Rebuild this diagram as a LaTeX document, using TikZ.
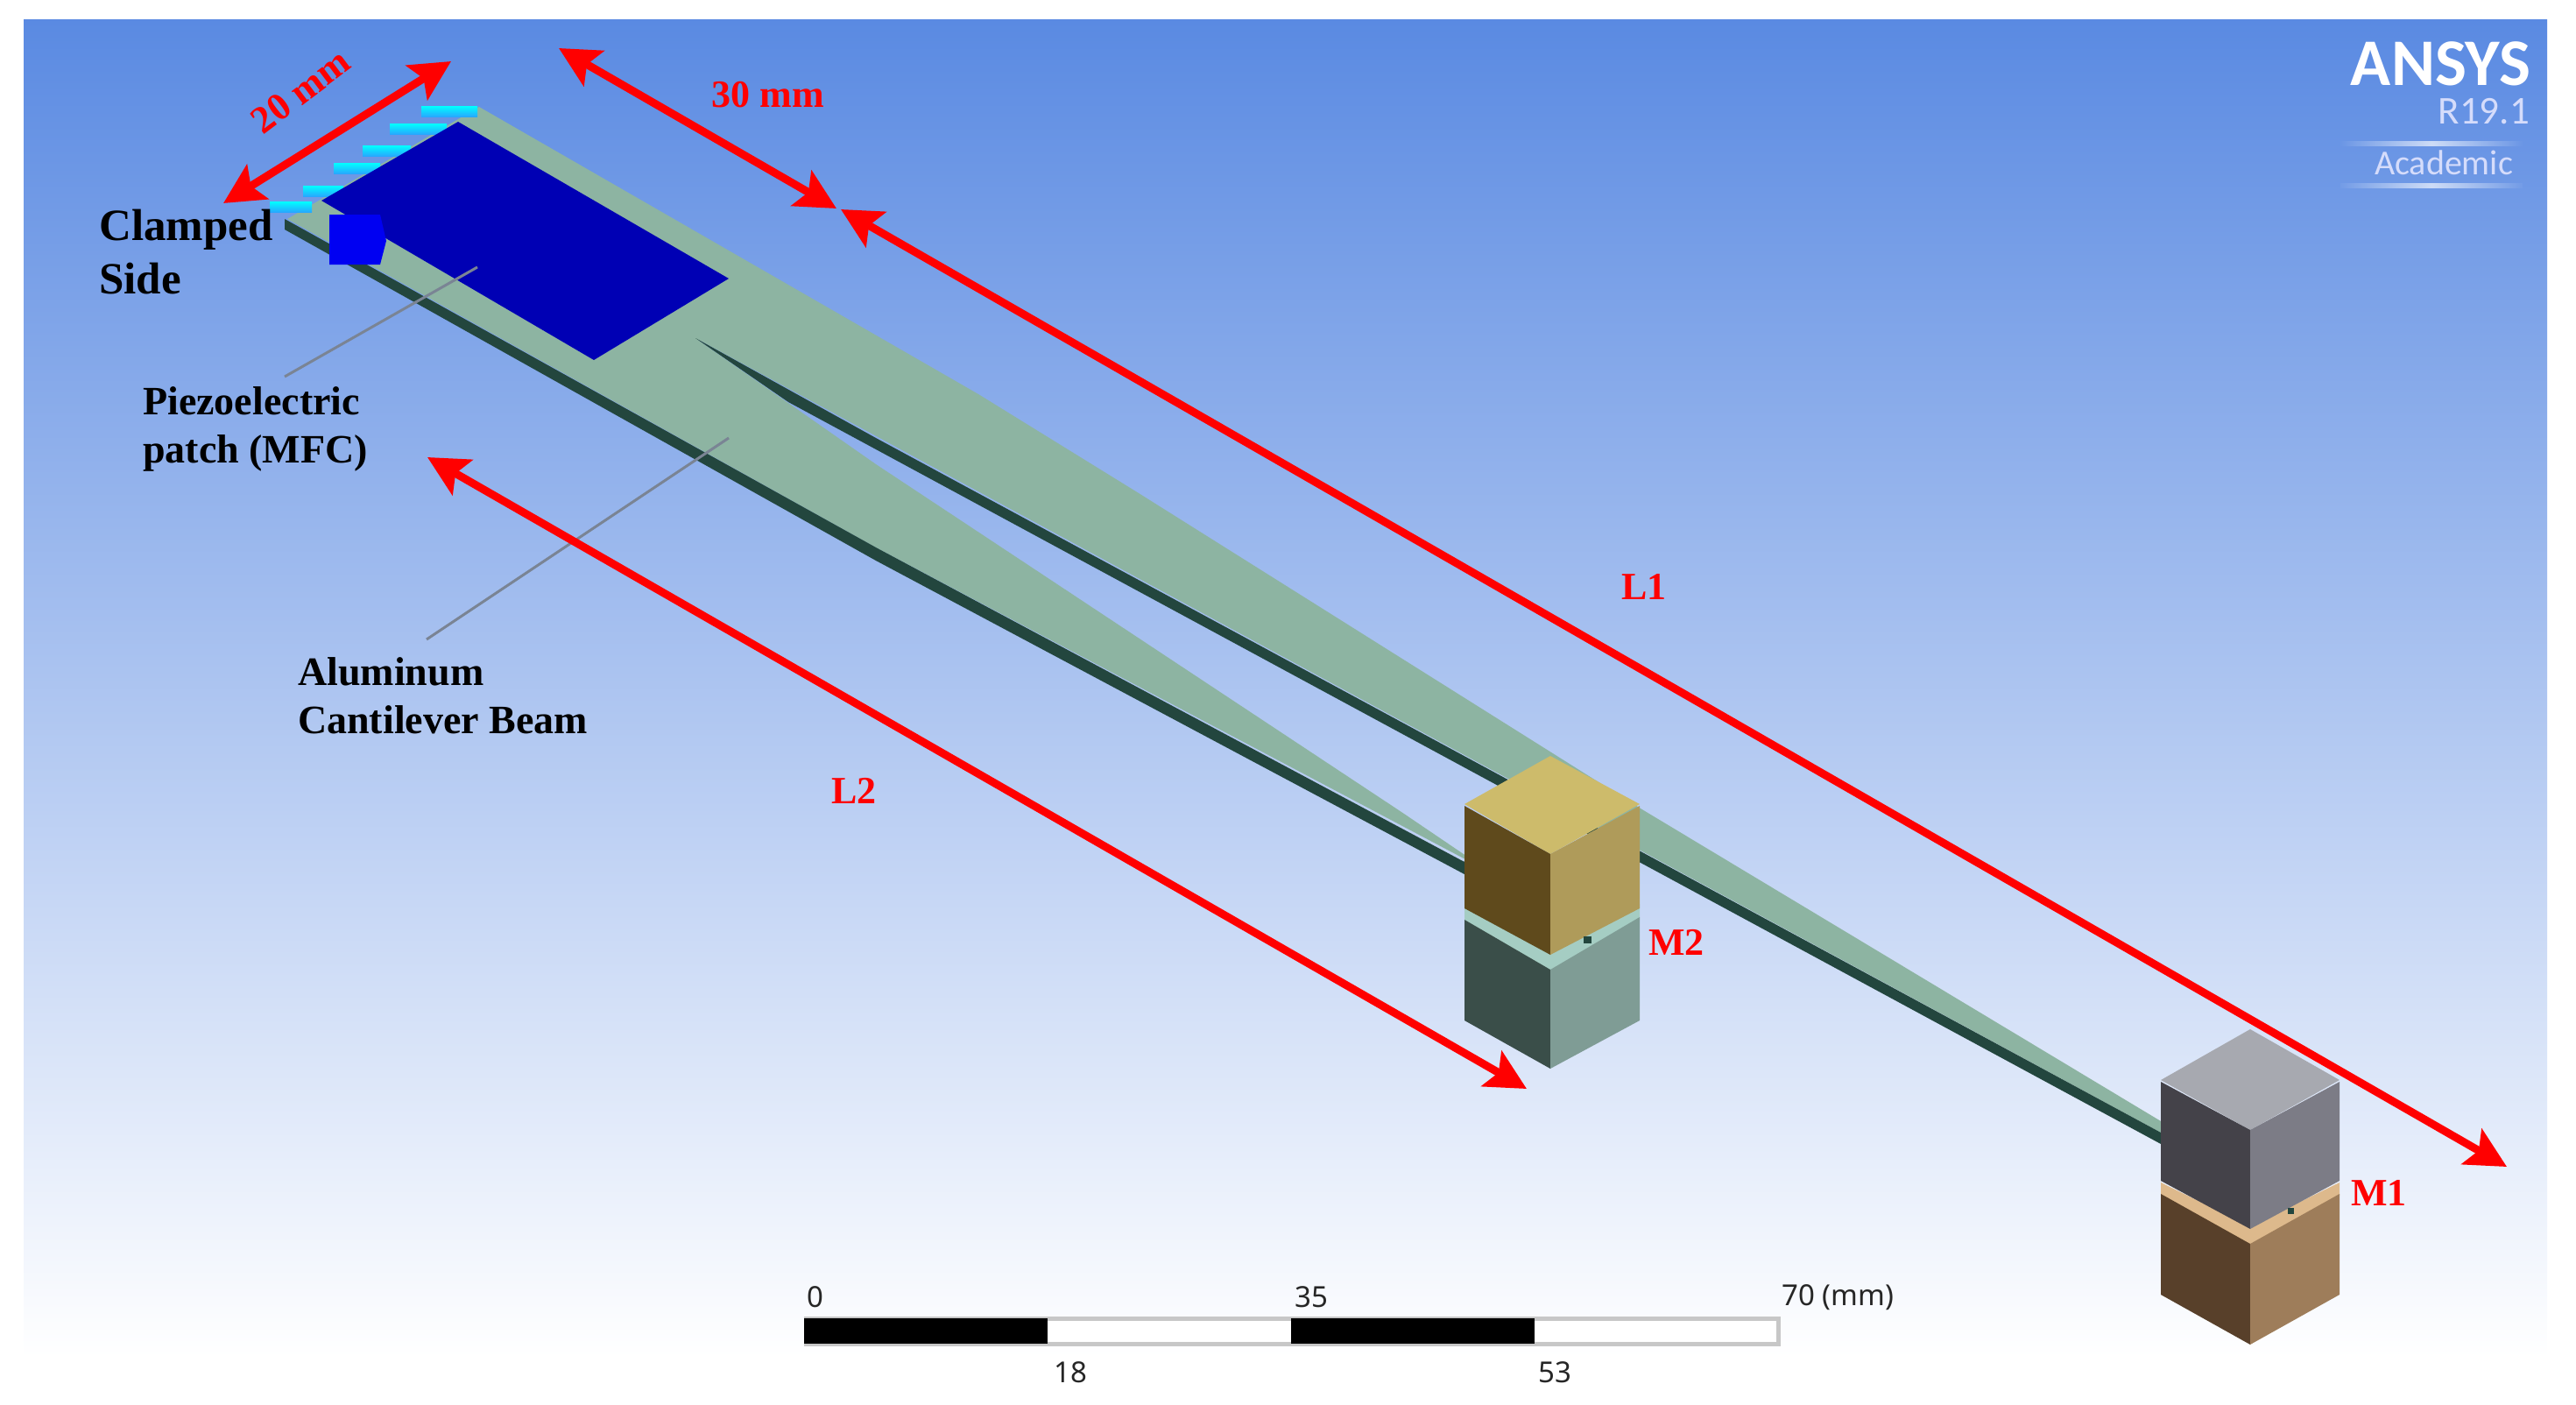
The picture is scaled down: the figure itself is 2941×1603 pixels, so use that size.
\documentclass[tikz,border=0pt]{standalone}
\usepackage{fontspec}
\setmainfont{Liberation Serif}
\newfontfamily\logofont{Carlito}
\newfontfamily\scalefont{Noto Sans}
\usetikzlibrary{arrows.meta}
\definecolor{bgtop}{RGB}{90,138,226}
\definecolor{beamlight}{RGB}{141,180,162}
\definecolor{beamdark}{RGB}{35,70,62}
\definecolor{patchblue}{RGB}{0,0,180}
\definecolor{dimred}{RGB}{255,0,0}
\definecolor{leadgray}{RGB}{122,132,148}
\definecolor{goldtop}{RGB}{205,187,107}
\definecolor{goldleft}{RGB}{95,74,28}
\definecolor{goldright}{RGB}{175,155,90}
\definecolor{greenband}{RGB}{165,205,195}
\definecolor{greenleft}{RGB}{58,78,73}
\definecolor{greenright}{RGB}{127,156,149}
\definecolor{greytop}{RGB}{167,169,176}
\definecolor{greyleft}{RGB}{68,66,73}
\definecolor{greyright}{RGB}{124,124,134}
\definecolor{brownband}{RGB}{221,185,140}
\definecolor{brownleft}{RGB}{88,64,42}
\definecolor{brownright}{RGB}{158,125,90}
\begin{document}
\begin{tikzpicture}[x=1pt,y=-1pt,
    lab/.style={font=\bfseries\fontsize{46}{55}\selectfont,text=black,align=left,inner sep=0pt},
    dimlab/.style={font=\bfseries\fontsize{44}{50}\selectfont,text=dimred,inner sep=0pt},
    dim/.style={draw=dimred,line width=9pt,{Stealth[length=46pt,width=46pt,inset=9pt]}-{Stealth[length=46pt,width=46pt,inset=9pt]}},
    lead/.style={draw=leadgray,line width=3pt},
    tick/.style={font=\scalefont\fontsize{33}{40}\selectfont,text=black!85,inner sep=0pt}]
  \useasboundingbox (0,0) rectangle (2941,1603);
  \shade[top color=bgtop,bottom color=white] (27,23) rectangle (2908,1550);
  % beam
  \fill[beamlight] (328,250) -- (547,122) -- (1117,450) -- (1300,563) -- (1873,923) -- (2467,1280) -- (2467,1293) -- (794,386) -- (1000,530) -- (1600,927) -- (1690,988) -- (1690,990) -- (1000,625) -- cycle;
  \fill[beamdark] (325,250) -- (1000,625) -- (1670,983) -- (1690,990) -- (1690,1008) -- (1670,997) -- (1000,640) -- (325,262) -- cycle;
  \fill[beamdark] (794,386) -- (1000,500) -- (2467,1293) -- (2467,1306) -- (1000,513) -- (900,459) -- cycle;
  % clamp marks
  \foreach \xa/\xb/\yy in {481/545/121,445/510/141,414/469/166,381/434/186,346/392/212,308/356/230}
    \shade[top color=cyan,bottom color=cyan!60!blue!85!white] (\xa,\yy) rectangle (\xb,\yy+12);
  % patch
  \fill[patchblue] (523,139) -- (367,229) -- (678,411) -- (832,318) -- cycle;
  \fill[blue!95!black] (376,245) -- (434,245) -- (441,275) -- (434,302) -- (376,302) -- cycle;
  % mass M2
  \fill[greenband] (1672,1032) -- (1770,1086) -- (1872,1032) -- (1872,1050) -- (1770,1109) -- (1672,1052) -- cycle;
  \fill[greenleft] (1672,1050) -- (1770,1107) -- (1770,1220) -- (1672,1165) -- cycle;
  \fill[greenright] (1770,1107) -- (1872,1047) -- (1872,1165) -- (1770,1220) -- cycle;
  \fill[goldtop] (1770,863) -- (1672,918) -- (1770,975) -- (1872,918) -- cycle;
  \fill[goldleft] (1672,920) -- (1770,975) -- (1770,1090) -- (1672,1037) -- cycle;
  \fill[goldright] (1770,975) -- (1872,920) -- (1872,1037) -- (1770,1090) -- cycle;
  \fill[beamdark] (1808,1069) rectangle (1817,1077);
  % mass M1
  \fill[brownband] (2467,1350) -- (2569,1400) -- (2671,1350) -- (2671,1365) -- (2569,1422) -- (2467,1365) -- cycle;
  \fill[brownleft] (2467,1363) -- (2569,1420) -- (2569,1535) -- (2467,1478) -- cycle;
  \fill[brownright] (2569,1420) -- (2671,1363) -- (2671,1478) -- (2569,1535) -- cycle;
  \fill[greytop] (2569,1175) -- (2467,1233) -- (2569,1290) -- (2671,1233) -- cycle;
  \fill[greyleft] (2467,1235) -- (2569,1290) -- (2569,1403) -- (2467,1348) -- cycle;
  \fill[greyright] (2569,1290) -- (2671,1235) -- (2671,1348) -- (2569,1403) -- cycle;
  \fill[beamdark] (2612,1379) rectangle (2619,1386);
  % leaders
  \coordinate (patchin) at (545,305);
  \coordinate (patchout) at (325,430);
  \coordinate (beamin) at (832,500);
  \coordinate (beamout) at (487,730);
  \draw[lead] (patchin) -- (patchout);
  \draw[lead] (beamin) -- (beamout);
  % dimensions
  \coordinate (w1) at (255,232);
  \coordinate (w2) at (515,70);
  \coordinate (s1) at (638,55);
  \coordinate (s2) at (955,238);
  \coordinate (l1a) at (960,239);
  \coordinate (l1b) at (2862,1332);
  \coordinate (l2a) at (488,522);
  \coordinate (l2b) at (1743,1243);
  \draw[dim] (w1) -- (w2);
  \draw[dim] (s1) -- (s2);
  \draw[dim] (l1a) -- (l1b);
  \draw[dim] (l2a) -- (l2b);
  \node[dimlab,rotate=37] (width) at (343,104) {20 mm};
  \node[dimlab] (slot) at (877,108) {30 mm};
  \node[dimlab] (lenone) at (1877,670) {L1};
  \node[dimlab] (lentwo) at (975,903) {L2};
  \node[dimlab] (mtwo) at (1914,1076) {M2};
  \node[dimlab] (mone) at (2716,1362) {M1};
  % labels
  \node[lab,font=\bfseries\fontsize{51}{61}\selectfont,anchor=north west] (clamp) at (113,239) {Clamped\\Side};
  \node[lab,anchor=north west] (piezo) at (163,441) {Piezoelectric\\patch (MFC)};
  \node[lab,anchor=north west] (alu) at (340,750) {Aluminum\\Cantilever Beam};
  % logo
  \node[font=\logofont\bfseries\fontsize{76}{80}\selectfont,text=white,anchor=east,inner sep=0pt] (ansys) at (2889,73) {ANSYS};
  \node[font=\logofont\fontsize{45}{50}\selectfont,text=blue!8!white!85!bgtop,anchor=east,inner sep=0pt] (rel) at (2888,127) {R19.1};
  \node[font=\logofont\fontsize{40}{44}\selectfont,text=blue!8!white!85!bgtop,anchor=center,inner sep=0pt] (acad) at (2790,186) {Academic};
  \shade[left color=bgtop!90!white,right color=bgtop!90!white,middle color=white!70!bgtop] (2672,161) rectangle (2880,166);
  \shade[left color=bgtop!85!white,right color=bgtop!85!white,middle color=white!70!bgtop] (2672,209) rectangle (2880,214);
  % scale bar
  \fill[white] (918,1505) rectangle (2030,1534);
  \draw[black!22,line width=5pt] (918,1505) -- (2030,1505) -- (2030,1534) -- (918,1534);
  \fill[black] (918,1505) rectangle (1196,1534);
  \fill[black] (1474,1505) rectangle (1752,1534);
  \node[tick] (zero) at (931,1481) {0};
  \node[tick] (mid) at (1497,1481) {35};
  \node[tick,anchor=west] (end) at (2034,1481) {70 (mm)};
  \node[tick] (low) at (1222,1567) {18};
  \node[tick] (high) at (1775,1567) {53};
\end{tikzpicture}
\end{document}
